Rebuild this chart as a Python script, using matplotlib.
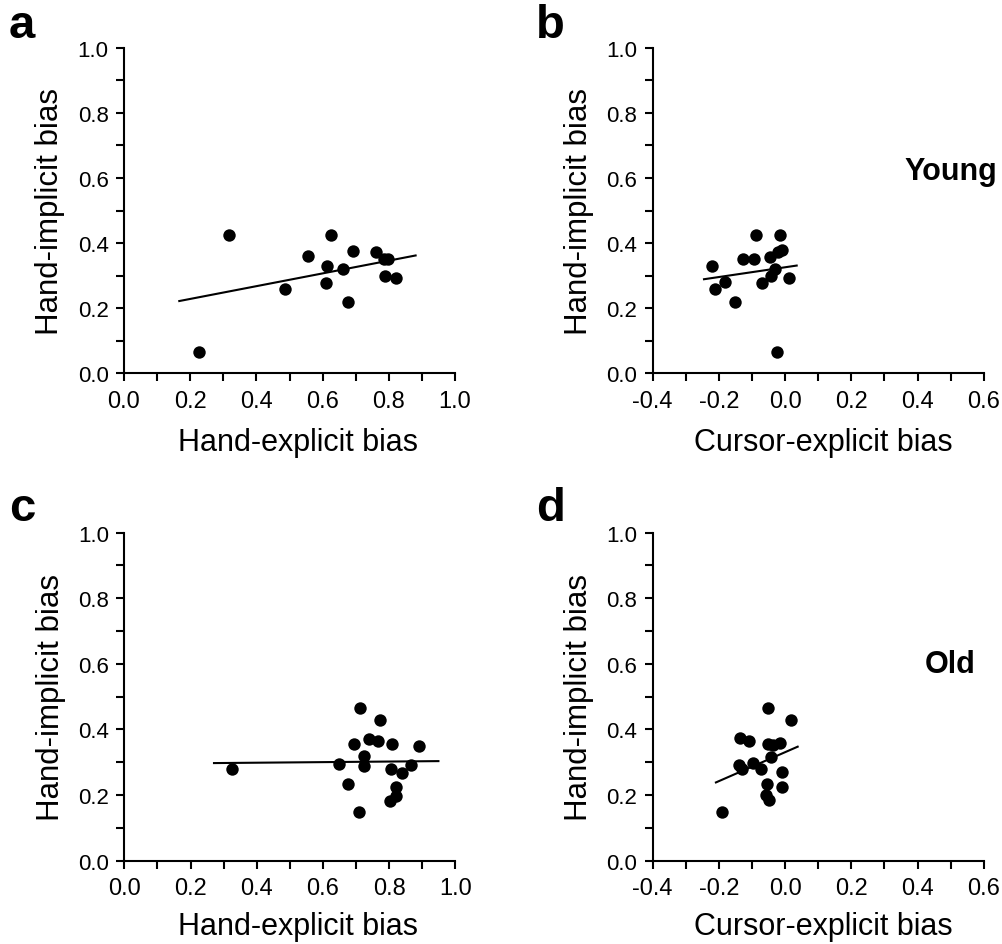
import matplotlib
matplotlib.use("Agg")
import matplotlib.pyplot as plt
from matplotlib.ticker import MultipleLocator

plt.rcParams['font.family'] = ['Liberation Sans', 'DejaVu Sans']

# ---------------- data ----------------
# Panel a (Young): hand-explicit vs hand-implicit
a_x = [0.227, 0.317, 0.487, 0.557, 0.612, 0.609, 0.625, 0.662, 0.676, 0.691,
       0.761, 0.787, 0.799, 0.790, 0.823]
a_y = [0.066, 0.425, 0.260, 0.359, 0.329, 0.277, 0.424, 0.321, 0.218, 0.377,
       0.373, 0.351, 0.351, 0.300, 0.294]
a_fit_x = [0.167, 0.881]
a_fit_y = [0.222, 0.362]

# Panel b (Young): cursor-explicit vs hand-implicit
b_x = [-0.222, -0.212, -0.182, -0.150, -0.127, -0.094, -0.088, -0.069, -0.045,
       -0.044, -0.030, -0.021, -0.010, -0.015, -0.025, 0.011]
b_y = [0.329, 0.260, 0.279, 0.219, 0.351, 0.351, 0.426, 0.277, 0.358,
       0.300, 0.321, 0.372, 0.379, 0.425, 0.066, 0.293]
b_fit_x = [-0.245, 0.035]
b_fit_y = [0.289, 0.331]

# Panel c (Old): hand-explicit vs hand-implicit
c_x = [0.326, 0.650, 0.676, 0.694, 0.708, 0.712, 0.724, 0.723, 0.739, 0.766,
       0.772, 0.802, 0.805, 0.810, 0.821, 0.821, 0.840, 0.865, 0.890]
c_y = [0.279, 0.294, 0.233, 0.354, 0.149, 0.464, 0.318, 0.289, 0.371, 0.363,
       0.429, 0.182, 0.279, 0.356, 0.225, 0.198, 0.267, 0.291, 0.349]
c_fit_x = [0.271, 0.949]
c_fit_y = [0.297, 0.303]

# Panel d (Old): cursor-explicit vs hand-implicit
d_x = [-0.190, -0.136, -0.108, -0.139, -0.130, -0.096, -0.073, -0.051, -0.051,
       -0.036, -0.015, -0.044, -0.055, -0.059, -0.049, -0.010, -0.010, 0.017]
d_y = [0.149, 0.373, 0.363, 0.291, 0.280, 0.297, 0.280, 0.464, 0.355,
       0.353, 0.357, 0.317, 0.233, 0.199, 0.184, 0.269, 0.225, 0.429]
d_fit_x = [-0.209, 0.038]
d_fit_y = [0.238, 0.347]

hand_xticks = [0.0, 0.2, 0.4, 0.6, 0.8, 1.0]
cursor_xticks = [-0.4, -0.2, 0.0, 0.2, 0.4, 0.6]
yticks = [0.0, 0.2, 0.4, 0.6, 0.8, 1.0]

xlabel_hand = "Hand-explicit bias"
xlabel_cursor = "Cursor-explicit bias"
ylabel = "Hand-implicit bias"

# ---------------- figure ----------------
W, H = 1003, 945
fig = plt.figure(figsize=(W / 100, H / 100), dpi=100)

def rect(left_px, top_px, w_px, h_px):
    return [left_px / W, 1 - (top_px + h_px) / H, w_px / W, h_px / H]

ax_a = fig.add_axes(rect(124, 48.8, 331, 325.5))
ax_b = fig.add_axes(rect(652.7, 48.8, 331, 325.5))
ax_c = fig.add_axes(rect(124.3, 533.5, 331, 328))
ax_d = fig.add_axes(rect(652.7, 533.5, 331, 328))

panels = [
    (ax_a, a_x, a_y, a_fit_x, a_fit_y, hand_xticks, xlabel_hand, None, 0.62, 8, -0.165),
    (ax_b, b_x, b_y, b_fit_x, b_fit_y, cursor_xticks, xlabel_cursor, 'Young', 0.62, 5, -0.165),
    (ax_c, c_x, c_y, c_fit_x, c_fit_y, hand_xticks, xlabel_hand, None, 0.6, 8, -0.155),
    (ax_d, d_x, d_y, d_fit_x, d_fit_y, cursor_xticks, xlabel_cursor, 'Old', 0.6, 5, -0.155),
]

for ax, xs, ys, fx, fy, xt, xl, group, gy, xshift, ylab in panels:
    ax.scatter(xs, ys, s=80, color='black', zorder=3, linewidths=0)
    ax.plot(fx, fy, color='black', lw=1.5, zorder=2)
    ax.set_xlim(xt[0], xt[-1])
    ax.set_ylim(0, 1.0)
    ax.set_xticks(xt)
    ax.set_yticks(yticks)
    ax.set_xticklabels([f"{v:.1f}" for v in xt])
    ax.set_yticklabels([f"{v:.1f}" for v in yticks])
    ax.xaxis.set_minor_locator(MultipleLocator(0.1))
    ax.yaxis.set_minor_locator(MultipleLocator(0.1))
    for s in ['top', 'right']:
        ax.spines[s].set_visible(False)
    for s in ['left', 'bottom']:
        ax.spines[s].set_linewidth(1.5)
        ax.spines[s].set_capstyle('projecting')
    ax.tick_params(which='both', direction='out', length=6, width=1.5, color='black')
    ax.tick_params(axis='x', which='major', labelsize=17, pad=6)
    ax.tick_params(axis='y', which='major', labelsize=16, pad=5)
    ax.set_xlabel(xl, fontsize=22)
    ax.set_ylabel(ylabel, fontsize=22.5, labelpad=9)
    # nudge the x label slightly to the right, as in the reference
    ax.xaxis.set_label_coords(0.5 + xshift / 331, ylab)
    ax.patch.set_visible(False)
    if group:
        ax.text(0.5, gy, group, fontsize=22, fontweight='bold',
                ha='center', va='center', transform=ax.transData)

# panel letters
fig.text(9 / W, 1 - 38 / H, 'a', fontsize=34, fontweight='bold', ha='left', va='baseline')
fig.text(536 / W, 1 - 38 / H, 'b', fontsize=34, fontweight='bold', ha='left', va='baseline')
fig.text(9 / W, 1 - 521 / H, 'c', fontsize=34, fontweight='bold', ha='left', va='baseline')
fig.text(536 / W, 1 - 521 / H, 'd', fontsize=34, fontweight='bold', ha='left', va='baseline')

fig.savefig('out.png', dpi=100, facecolor='white')
